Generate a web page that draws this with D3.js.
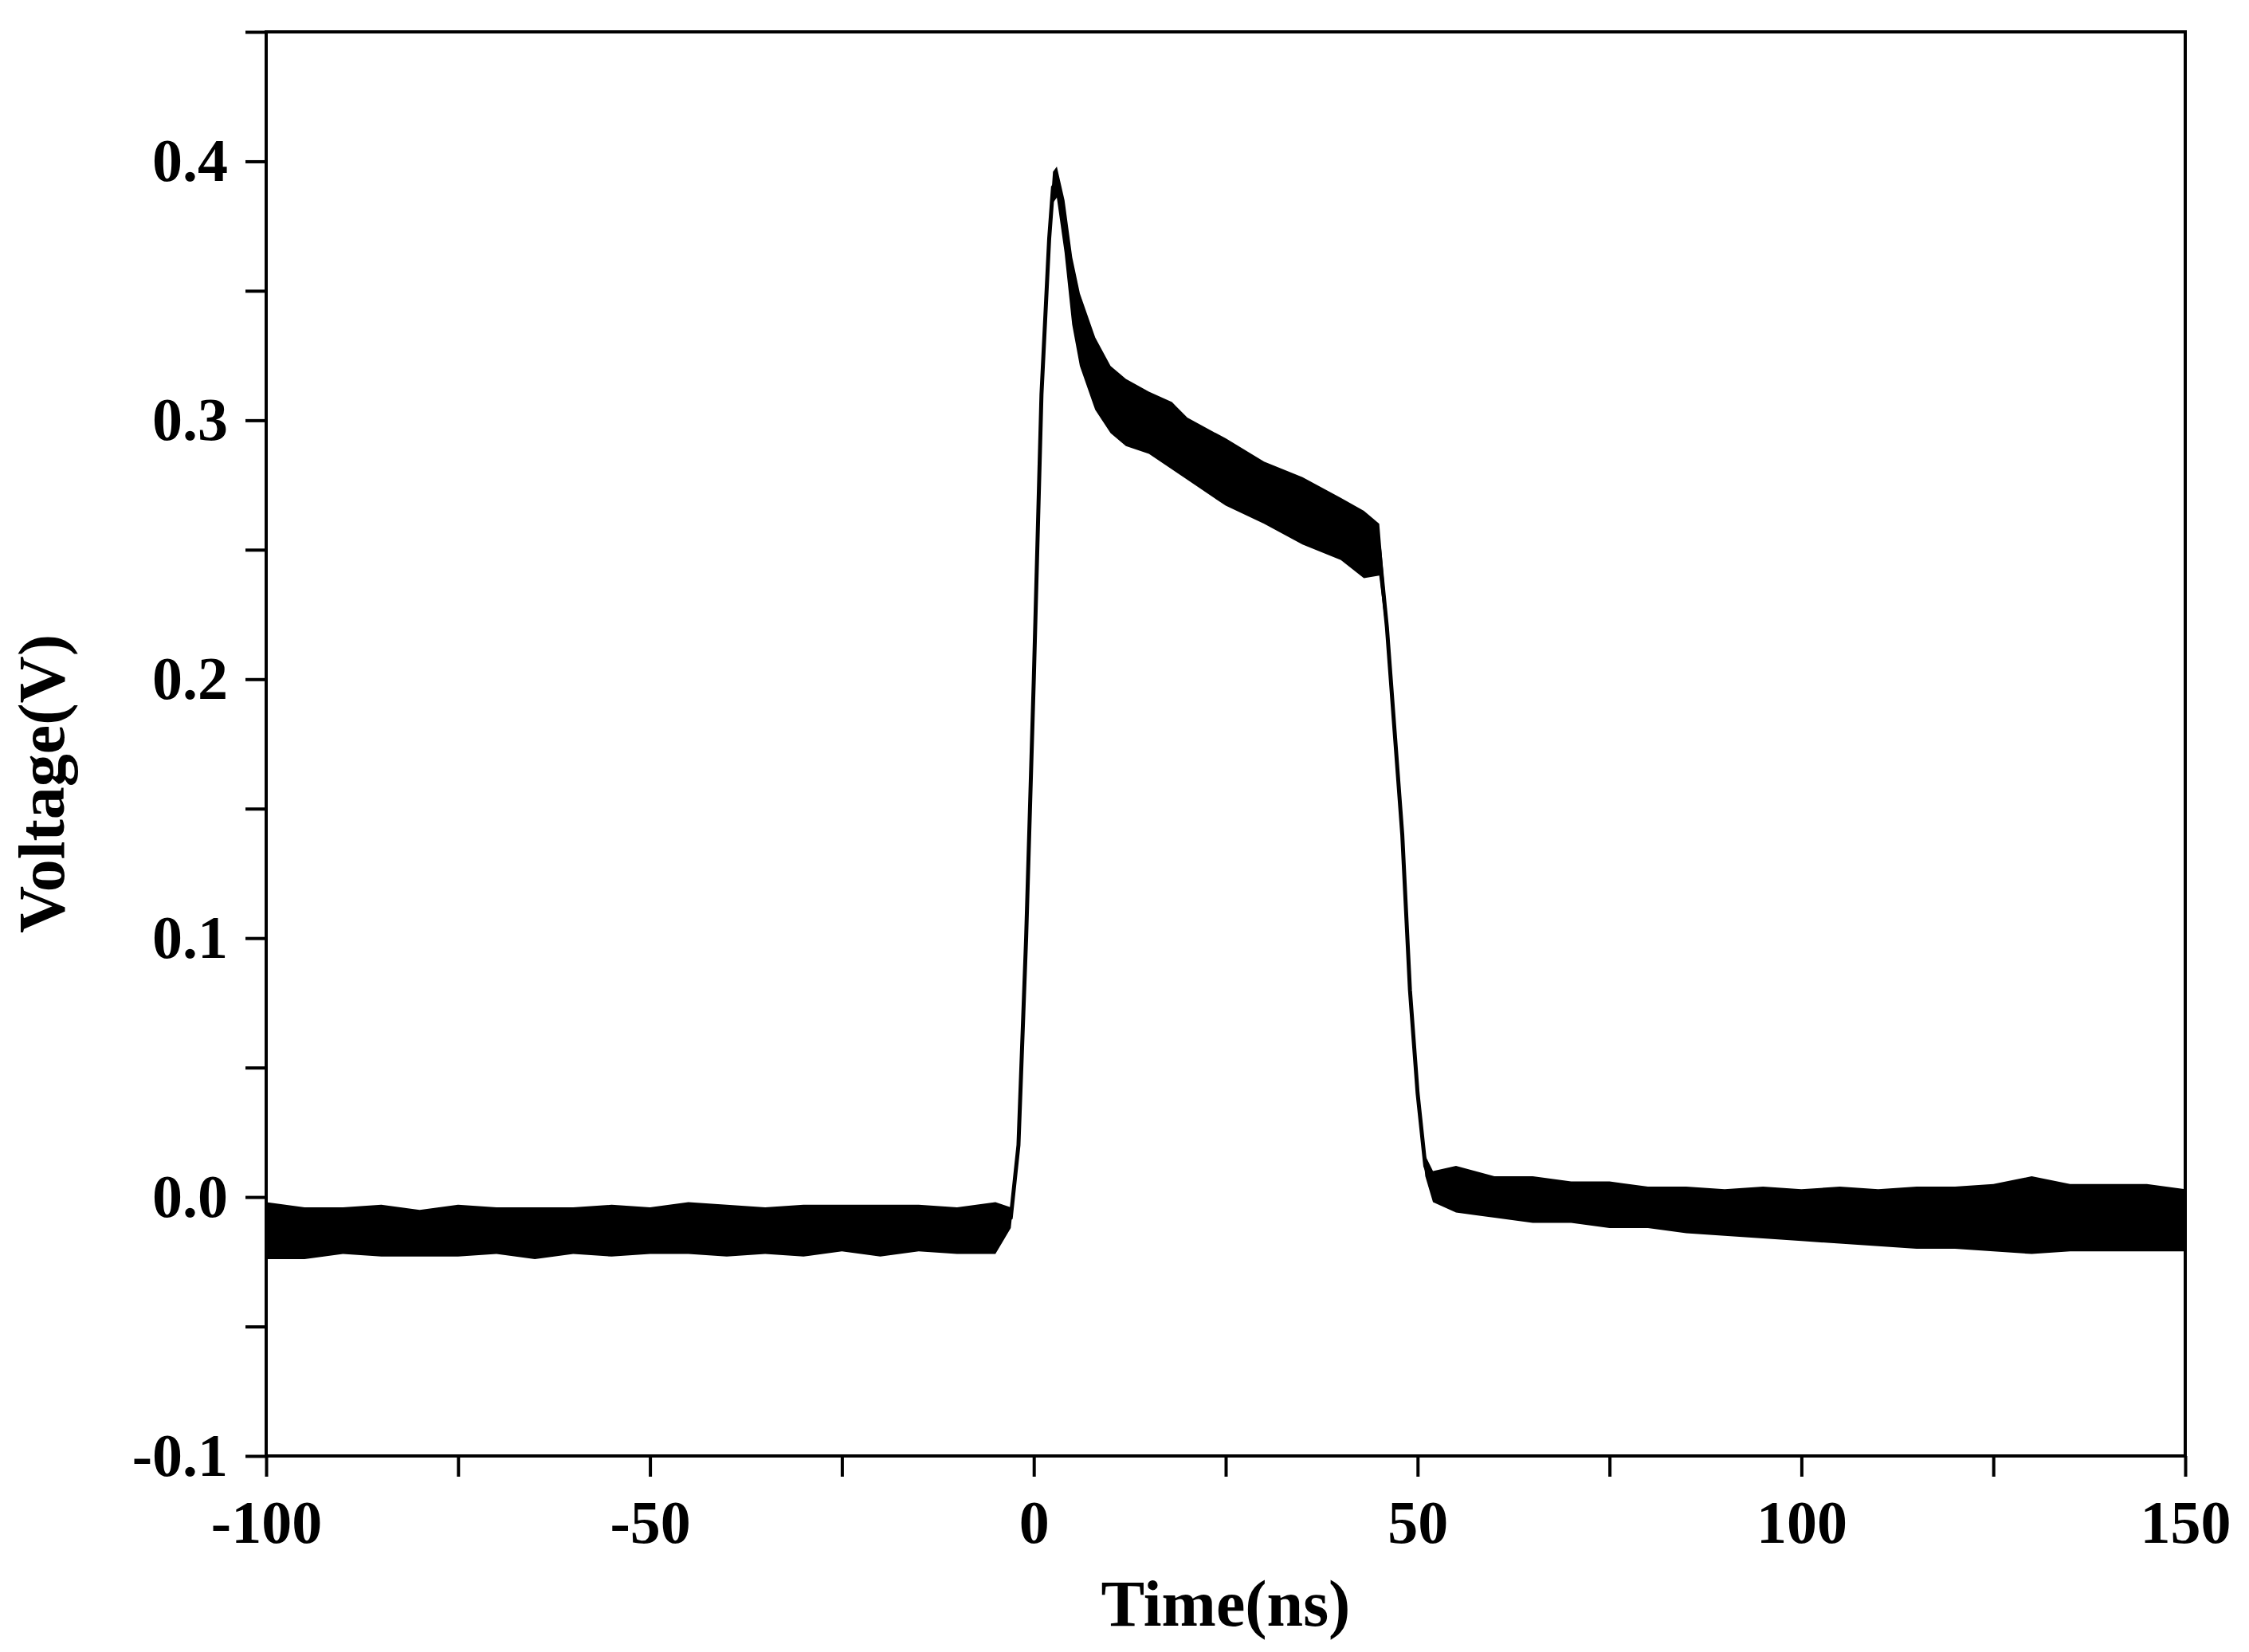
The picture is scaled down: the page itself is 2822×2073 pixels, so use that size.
<!DOCTYPE html>
<html><head><meta charset="utf-8">
<script src="https://cdn.jsdelivr.net/npm/d3@7"></script>
<style>body{margin:0;background:#fff}</style></head>
<body><svg id="c" width="2822" height="2073"></svg>
<script>
// trace: time (ns), centre voltage, noise half-band (V)
var times  = [-100,-95,-90,-85,-80,-75,-70,-65,-60,-55,-50,-45,-40,-35,-30,-25,-20,-15,-10,-5,-3,-2,-1,0,1,2,2.5,3,4,5,6,8,10,12,15,18,20,25,30,35,40,43,45,46,47,48,49,50,51,52,55,60,65,70,75,80,85,90,95,100,105,110,115,120,125,130,135,140,145,150];
var volts  = [-0.013,-0.014,-0.013,-0.013,-0.014,-0.013,-0.013,-0.014,-0.013,-0.013,-0.013,-0.012,-0.013,-0.013,-0.013,-0.012,-0.013,-0.012,-0.013,-0.012,-0.008,0.02,0.10,0.20,0.31,0.37,0.39,0.392,0.375,0.35,0.335,0.318,0.308,0.303,0.299,0.294,0.289,0.28,0.272,0.265,0.258,0.252,0.25,0.22,0.18,0.14,0.08,0.04,0.012,0.004,0.003,0.0,-0.001,-0.002,-0.003,-0.004,-0.005,-0.006,-0.006,-0.007,-0.007,-0.008,-0.008,-0.008,-0.008,-0.007,-0.008,-0.008,-0.008,-0.009];
var noise  = [0.011,0.010,0.009,0.010,0.009,0.010,0.009,0.010,0.009,0.010,0.009,0.010,0.010,0.009,0.010,0.009,0.010,0.009,0.009,0.010,0.004,0.003,0.003,0.003,0.004,0.005,0.006,0.006,0.010,0.013,0.014,0.014,0.013,0.013,0.012,0.013,0.012,0.013,0.012,0.013,0.012,0.013,0.010,0.004,0.003,0.003,0.003,0.003,0.004,0.006,0.009,0.008,0.009,0.008,0.009,0.008,0.009,0.009,0.010,0.010,0.011,0.011,0.012,0.012,0.013,0.015,0.013,0.013,0.013,0.012];
var xTicks = [-100,-50,0,50,100,150];
var yTicks = [-0.1,0.0,0.1,0.2,0.3,0.4];

var svg = d3.select("#c");
var L = 334, R = 2742, T = 40, B = 1827;
var x = d3.scaleLinear().domain([-100,150]).range([L,R]);
var y = d3.scaleLinear().domain([-0.1,0.45]).range([B,T]);
var pts = times.map(function(t,i){ return {t:t, v:volts[i], n:noise[i]}; });

svg.append("path").datum(pts)
  .attr("fill","#000")
  .attr("d", d3.area().x(function(d){return x(d.t);})
    .y0(function(d){return y(d.v-d.n);}).y1(function(d){return y(d.v+d.n);}));
svg.append("path").datum(pts)
  .attr("fill","none").attr("stroke","#000").attr("stroke-width",5)
  .attr("d", d3.line().x(function(d){return x(d.t);}).y(function(d){return y(d.v);}));

var font = "'Liberation Serif', 'Times New Roman', serif";
var gx = svg.append("g").attr("transform","translate(0,"+B+")")
  .call(d3.axisBottom(x).tickValues(d3.range(-100,151,25)).tickSize(26)
    .tickFormat(function(d){ return xTicks.indexOf(d) >= 0 ? String(d) : ""; }));
gx.selectAll("line").attr("stroke-width",4);
gx.selectAll("text").attr("font-family",font).attr("font-weight","bold").attr("font-size",76).attr("dy","1.05em");
var gy = svg.append("g").attr("transform","translate("+L+",0)")
  .call(d3.axisLeft(y).tickValues(d3.range(-0.1,0.451,0.05)).tickSize(26)
    .tickFormat(function(d){ var r=Math.round(d*100)/100; return yTicks.some(function(v){return Math.abs(v-r)<1e-9;}) ? r.toFixed(1) : ""; }));
gy.selectAll("line").attr("stroke-width",4);
gy.selectAll("text").attr("font-family",font).attr("font-weight","bold").attr("font-size",76).attr("dx","-0.25em");
svg.selectAll(".domain").remove();
svg.append("rect").attr("x",L).attr("y",T).attr("width",R-L).attr("height",B-T)
  .attr("fill","none").attr("stroke","#000").attr("stroke-width",4);

svg.append("text").attr("x",(L+R)/2).attr("y",2040).attr("text-anchor","middle")
  .attr("font-family",font).attr("font-weight","bold").attr("font-size",82).text("Time(ns)");
svg.append("text").attr("transform","translate(80,"+((T+B)/2+50)+") rotate(-90)").attr("text-anchor","middle")
  .attr("font-family",font).attr("font-weight","bold").attr("font-size",82).text("Voltage(V)");
</script></body></html>
